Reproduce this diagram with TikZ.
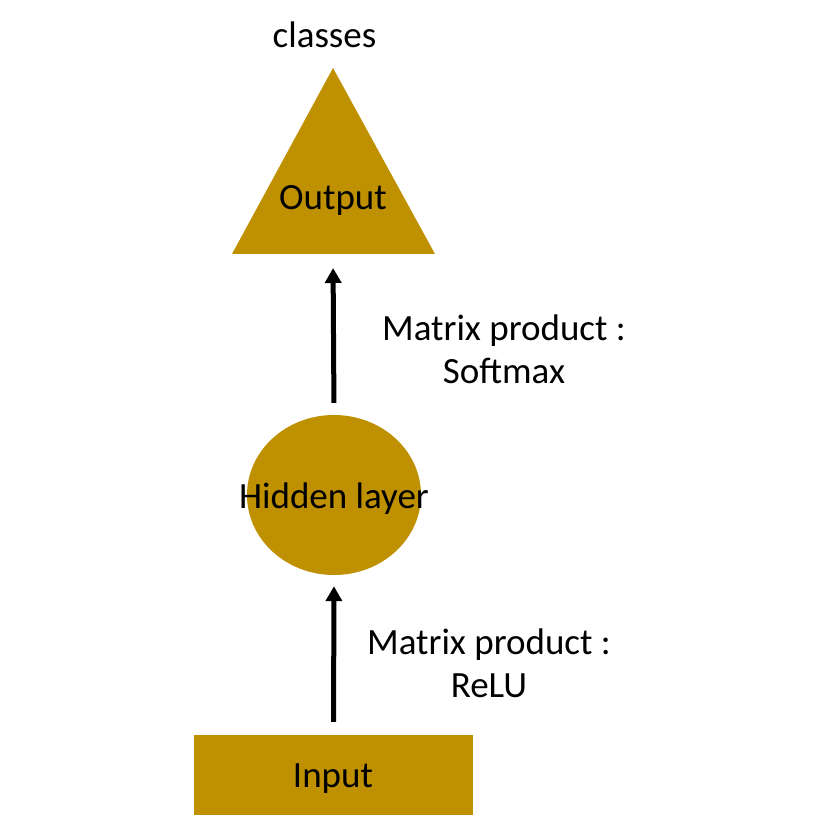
\documentclass[tikz,border=0pt]{standalone}
\usepackage{fontspec}
\setmainfont{Carlito}
\usetikzlibrary{shapes.geometric,arrows.meta}
\definecolor{gold}{RGB}{191,144,0}
\begin{document}
\begin{tikzpicture}[x=1pt,y=-1pt,
  every node/.style={font=\fontsize{37}{43}\selectfont, text=black, inner sep=0pt},
  shapefill/.style={fill=gold, draw=none},
  txt/.style={anchor=base, align=center},
  arr/.style={line width=5pt, -{Triangle[width=16pt,length=15pt]}}]
\useasboundingbox[fill=white] (0,0) rectangle (830,821);
% output triangle
\coordinate (apex) at (333,68);
\coordinate (bl) at (232,254);
\coordinate (br) at (435,254);
\coordinate (outbase) at (333,254);
\fill[shapefill] (apex) -- (br) -- (bl) -- cycle;
\node[txt] (out) at (333,210) {Output};
\node[txt] (cls) at (324.5,48) {classes};
% hidden ellipse
\node[ellipse, shapefill, minimum width=174pt, minimum height=160pt] (hid) at (334,495) {};
\node[txt] (hidtxt) at (334,508) {Hidden layer};
% input rectangle
\node[rectangle, shapefill, minimum width=279pt, minimum height=80pt] (inp) at (333.5,775) {};
\node[txt] (inptxt) at (333,787) {Input};
% arrows
\draw[arr, shorten <=12pt, shorten >=14pt] (hid.north) -- (outbase);
\draw[arr, shorten <=13pt, shorten >=11pt] (inp.north) -- (hid.south);
% labels
\node[txt] (l1) at (504,383) {Matrix product :\\Softmax};
\node[txt] (l2) at (489,697) {Matrix product :\\ReLU};
\end{tikzpicture}
\end{document}
